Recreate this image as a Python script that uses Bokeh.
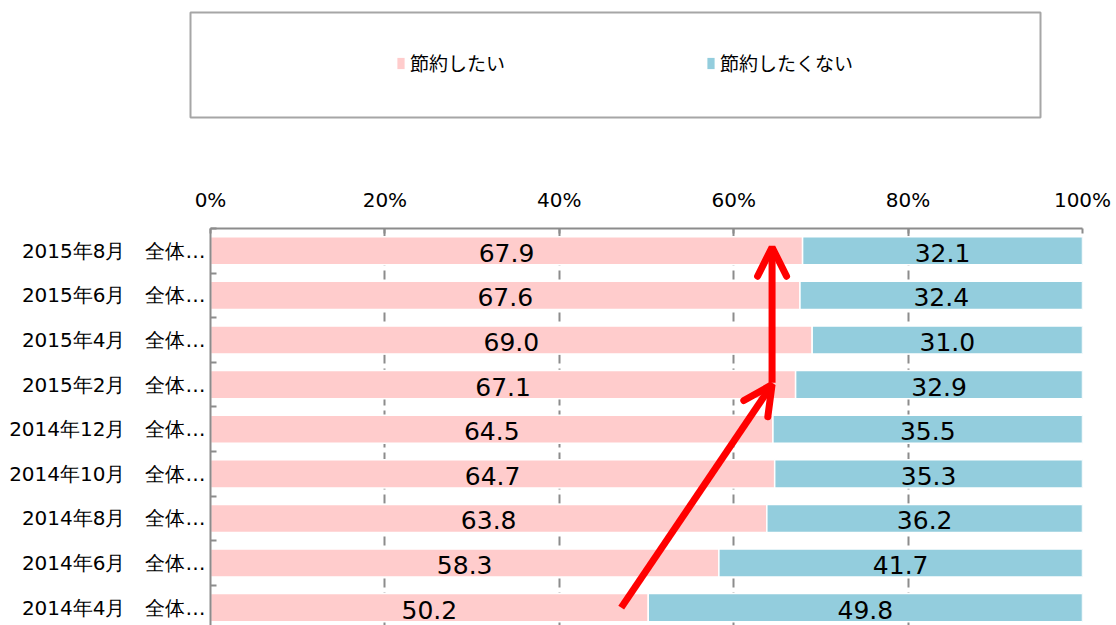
from bokeh.plotting import figure
from bokeh.layouts import column
from bokeh.models import (ColumnDataSource, Range1d, FixedTicker, PrintfTickFormatter,
                          Legend, LegendItem, Arrow, OpenHead)
from bokeh.core.properties import value
from bokeh.embed import file_html
from bokeh.resources import INLINE

# ---------------- data (top to bottom) ----------------
categories = ["2015年8月", "2015年6月", "2015年4月", "2015年2月", "2014年12月",
              "2014年10月", "2014年8月", "2014年6月", "2014年4月"]
want_save = [67.9, 67.6, 69.0, 67.1, 64.5, 64.7, 63.8, 58.3, 50.2]
not_save = [32.1, 32.4, 31.0, 32.9, 35.5, 35.3, 36.2, 41.7, 49.8]
series_names = ["節約したい", "節約したくない"]
x_ticks = [0, 20, 40, 60, 80, 100]

# annotation arrows (x in %, y in category index, 0 = top row)
arrow_diag_x = [47.1, 64.4]
arrow_diag_y = [8.0, 3.0]
arrow_up_x = [64.4, 64.4]
arrow_up_y = [2.96, -0.08]

PINK = "#FFCCCC"
BLUE = "#93CDDD"
GRAY = "#8C8C8C"
RED = "#FF0000"

n = len(categories)
idx = list(range(n))
labels = {i: f"{c}\u3000全体…" for i, c in enumerate(categories)}

src = ColumnDataSource(dict(
    idx=idx,
    yes=want_save,
    no=not_save,
    yes_mid=[v / 2 for v in want_save],
    no_mid=[a + b / 2 for a, b in zip(want_save, not_save)],
    yes_txt=[f"{v:.1f}" for v in want_save],
    no_txt=[f"{v:.1f}" for v in not_save],
))

# ---------------- legend box figure ----------------
lf = figure(width=1116, height=119, output_backend="svg", toolbar_location=None,
            x_range=Range1d(0, 100), y_range=Range1d(-100, -99),
            x_axis_type=None, y_axis_type=None,
            min_border_left=190, min_border_right=76, min_border_top=12, min_border_bottom=2)
lf.frame_align = False
lf.grid.visible = False
lf.outline_line_color = "#A6A6A6"
lf.outline_line_width = 2
# legend proxies: hidden renderers, only their legend swatches are shown
proxies = lf.hbar_stack(["yes", "no"], y="idx", height=0.63, source=src,
                        fill_color=[PINK, BLUE], line_alpha=0)
for r in proxies:
    r.visible = False
leg = Legend(items=[LegendItem(label=series_names[0], renderers=[proxies[0]]),
                    LegendItem(label=series_names[1], renderers=[proxies[1]])],
             location=(206, 41), orientation="horizontal", spacing=201,
             padding=0, margin=0, border_line_alpha=0, background_fill_alpha=0,
             inactive_fill_alpha=0,
             glyph_width=9, glyph_height=14, label_standoff=5, label_height=21,
             label_text_font="Noto Sans CJK JP", label_text_font_size="19px",
             label_text_color="#000000")
lf.add_layout(leg, "center")

# ---------------- main chart ----------------
p = figure(width=1116, height=506, output_backend="svg", toolbar_location=None,
           x_range=Range1d(0, 100), y_range=Range1d(8.4, -0.5),
           x_axis_location="above",
           min_border_left=210, min_border_right=34, min_border_top=109, min_border_bottom=0)
p.frame_align = False
p.outline_line_color = None

p.hbar_stack(["yes", "no"], y="idx", height=0.63, source=src,
             fill_color=[PINK, BLUE], line_color="white", line_width=1.5)

p.text(x="yes_mid", y="idx", text="yes_txt", source=src, text_align="center",
       text_baseline="middle", text_font=value("DejaVu Sans"), text_font_size="25px",
       text_color="#000000", y_offset=2)
p.text(x="no_mid", y="idx", text="no_txt", source=src, text_align="center",
       text_baseline="middle", text_font=value("DejaVu Sans"), text_font_size="25px",
       text_color="#000000", y_offset=2)

# x axis (top)
xa = p.xaxis[0]
xa.ticker = FixedTicker(ticks=x_ticks)
xa.formatter = PrintfTickFormatter(format="%d%%")
xa.axis_line_color = GRAY
xa.axis_line_width = 2
xa.major_tick_in = 5
xa.major_tick_out = 0
xa.major_tick_line_color = GRAY
xa.major_tick_line_width = 2
xa.minor_tick_line_color = None
xa.major_label_text_font = "DejaVu Sans"
xa.major_label_text_font_size = "20px"
xa.major_label_text_color = "#000000"
xa.major_label_standoff = 17

# y axis (left)
ya = p.yaxis[0]
ya.ticker = FixedTicker(ticks=idx, minor_ticks=[i + 0.5 for i in range(-1, n)])
ya.major_label_overrides = labels
ya.axis_line_color = GRAY
ya.axis_line_width = 2
ya.major_tick_line_color = None
ya.major_tick_in = 0
ya.major_tick_out = 0
ya.minor_tick_in = 6
ya.minor_tick_out = 0
ya.minor_tick_line_color = GRAY
ya.minor_tick_line_width = 2
ya.major_label_text_font = "DejaVu Sans"
ya.major_label_text_font_size = "20px"
ya.major_label_text_color = "#000000"
ya.major_label_standoff = 5

p.ygrid.visible = False
p.xgrid.ticker = FixedTicker(ticks=x_ticks)
p.xgrid.grid_line_color = GRAY
p.xgrid.grid_line_width = 2
p.xgrid.grid_line_dash = "9 5"

# arrows
for xs, ys in ((arrow_diag_x, arrow_diag_y), (arrow_up_x, arrow_up_y)):
    p.add_layout(Arrow(x_start=xs[0], y_start=ys[0], x_end=xs[1], y_end=ys[1],
                       line_color=RED, line_width=7,
                       end=OpenHead(size=29, line_color=RED, line_width=7, line_cap="round")))

layout = column(lf, p, spacing=0)
open("out.html", "w").write(file_html(layout, INLINE))
